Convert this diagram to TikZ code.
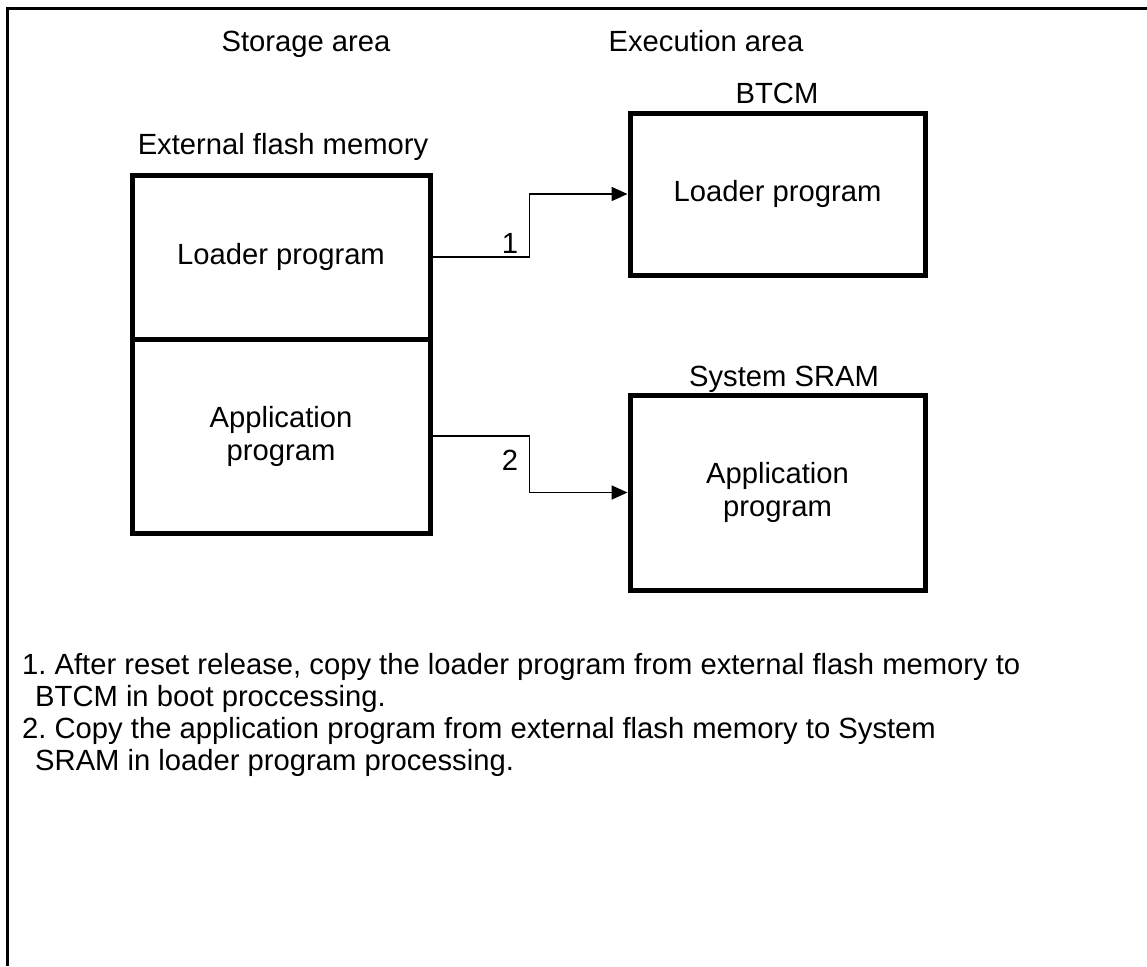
\documentclass[tikz,border=0pt]{standalone}
\usepackage{fontspec}
\setmainfont{Liberation Sans}
\usetikzlibrary{arrows.meta}
\frenchspacing
\begin{document}
\begin{tikzpicture}[x=1pt,y=-1pt,
  txt/.style={font=\fontsize{29.2}{33}\selectfont},
  memblock/.style={draw, line width=5pt, txt, align=center, inner sep=0pt},
  lbl/.style={txt, anchor=base, inner sep=0pt},
  note/.style={txt, anchor=base west, inner sep=0pt},
  conn/.style={line width=1.8pt, -{Triangle[length=16pt,width=14pt]}}]
\useasboundingbox (0,0) rectangle (1147,966);
% outer frame (left and top edges)
\coordinate (fbl) at (7,966);
\coordinate (ftl) at (7,9);
\coordinate (ftr) at (1147,9);
\draw[line width=3pt] (fbl) -- (ftl) -- (ftr);

% column headings
\node[lbl] (hstore) at (306,52) {Storage area};
\node[lbl] (hexec)  at (706,52) {Execution area};

% external flash memory
\node[lbl] (hflash) at (283,154) {External flash memory};
\node[memblock, minimum width=298pt, minimum height=164pt] (fl) at (281,257) {Loader program};
\node[memblock, minimum width=298pt, minimum height=194pt] (fa) at (281,436) {Application\\program};

% execution memories
\node[lbl] (hbtcm) at (777,103) {BTCM};
\node[memblock, minimum width=295pt, minimum height=162pt] (bt) at (777.5,194) {Loader program};
\node[lbl] (hsram) at (784,386) {System SRAM};
\node[memblock, minimum width=295pt, minimum height=195pt] (sr) at (777.5,492.5) {Application\\program};

% copy paths
\draw[conn] (fl.east) -- ++(97,0) |- (bt.west);
\draw[conn] (fa.east) -- ++(97,0) |- (sr.west);
\node[lbl] (n1) at (510,253) {1};
\node[lbl] (n2) at (510,470) {2};

% notes
\node[note] (t1) at (22,674) {1. After reset release, copy the loader program from external flash memory to};
\node[note] (t2) at (35,706) {BTCM in boot proccessing.};
\node[note] (t3) at (22,738) {2. Copy the application program from external flash memory to System};
\node[note] (t4) at (35,770) {SRAM in loader program processing.};
\end{tikzpicture}
\end{document}
